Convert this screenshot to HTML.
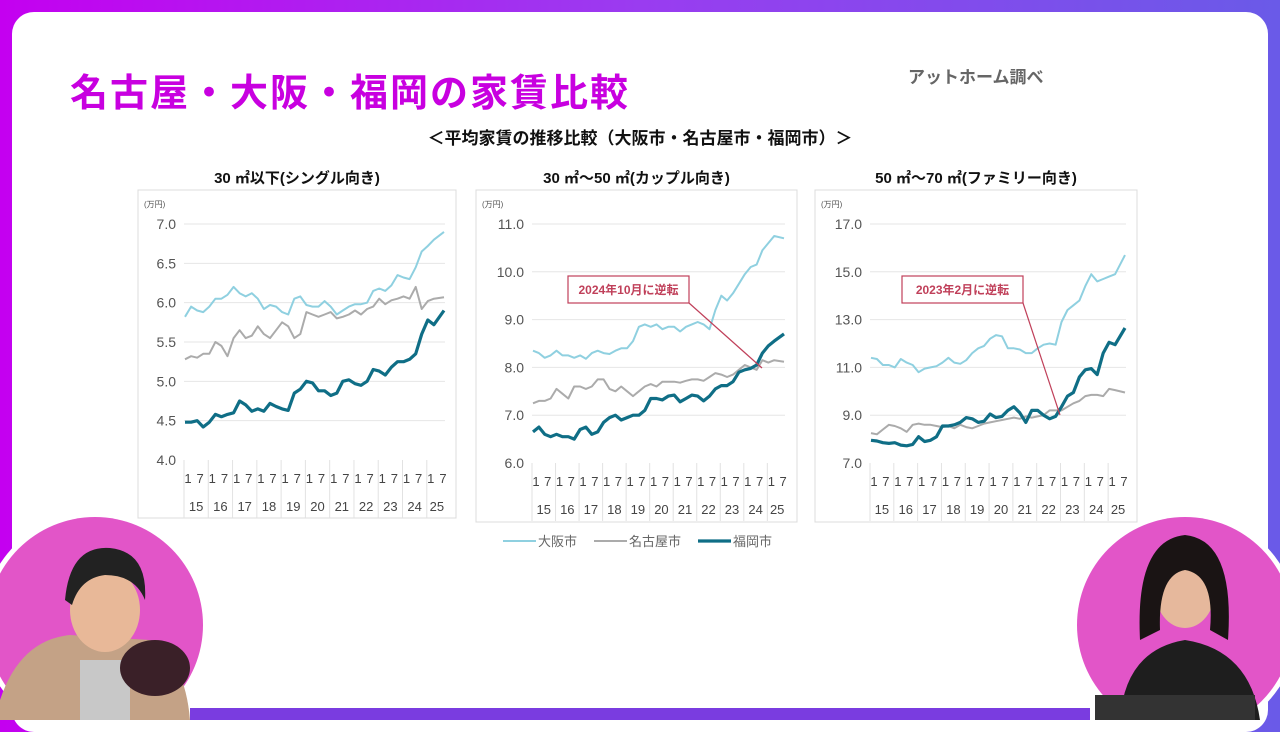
<!DOCTYPE html>
<html><head><meta charset="utf-8">
<style>
html,body{margin:0;padding:0}
body{width:1280px;height:720px;overflow:hidden;position:relative;font-family:"Liberation Sans","Noto Sans CJK JP",sans-serif;background:linear-gradient(90deg,#c400f0 0%,#9a3cf0 50%,#6a5ae8 100%)}
#panel{position:absolute;left:12px;top:12px;width:1256px;height:720px;background:#fff;border-radius:22px}
.t{position:absolute;white-space:nowrap}
</style></head>
<body>
<div id="panel"></div>
<div class="t" style="left:70px;top:62px;font-size:38px;font-weight:bold;color:#c800e0;letter-spacing:2px">名古屋・大阪・福岡の家賃比較</div>
<div class="t" style="left:908px;top:63px;font-size:17px;font-weight:bold;color:#666">アットホーム調べ</div>
<div class="t" style="left:0;width:1280px;text-align:center;top:124px;font-size:17px;font-weight:bold;color:#111">＜平均家賃の推移比較（大阪市・名古屋市・福岡市）＞</div>
<svg id="charts" width="1280" height="720" style="position:absolute;left:0;top:0"></svg>
<svg width="1280" height="720" style="position:absolute;left:0;top:0">
<rect x="190" y="708" width="900" height="12" fill="#7a3ce0"/>
<circle cx="95" cy="625" r="113" fill="#fff"/>
<circle cx="95" cy="625" r="108" fill="#e255c8"/>
<path d="M0 700 Q20 640 70 635 L150 640 Q185 660 190 720 L0 720Z" fill="#c4a286"/>
<rect x="80" y="660" width="50" height="60" fill="#c8c8c8"/>
<ellipse cx="105" cy="610" rx="35" ry="42" fill="#e8b898"/>
<path d="M65 600 Q70 545 110 548 Q148 552 145 600 Q135 575 105 575 Q80 578 72 605Z" fill="#222"/>
<ellipse cx="155" cy="668" rx="35" ry="28" fill="#3a2028"/>
<circle cx="1185" cy="625" r="113" fill="#fff"/>
<circle cx="1185" cy="625" r="108" fill="#e255c8"/>
<path d="M1120 720 Q1125 650 1185 640 Q1250 650 1260 720Z" fill="#1e1e1e"/>
<ellipse cx="1185" cy="590" rx="30" ry="38" fill="#e6b89c"/>
<path d="M1140 640 Q1135 540 1185 535 Q1235 540 1228 640 L1210 630 Q1215 575 1185 570 Q1158 575 1160 630Z" fill="#1a1414"/>
<rect x="1095" y="695" width="160" height="25" fill="#333"/>
</svg>
<script>
// Months index 0 = Jan 2015, quarterly samples (Jan, Apr, Jul, Oct)
const months = [0,3,6,9,12,15,18,21,24,27,30,33,36,39,42,45,48,51,54,57,60,63,66,69,72,75,78,81,84,87,90,93,96,99,102,105,108,111,114,117,120,123,128];
const years = ["15","16","17","18","19","20","21","22","23","24","25"];
const c1Osaka = [5.82,5.95,5.90,5.88,5.95,6.05,6.05,6.10,6.20,6.12,6.08,6.12,6.05,5.92,5.97,5.95,5.88,5.85,6.05,6.08,5.97,5.95,5.95,6.02,5.95,5.85,5.90,5.95,5.98,5.98,6.00,6.15,6.18,6.15,6.22,6.35,6.32,6.30,6.45,6.65,6.72,6.80,6.90];
const c1Nagoya = [5.28,5.32,5.30,5.35,5.35,5.50,5.45,5.32,5.55,5.65,5.55,5.58,5.70,5.60,5.55,5.65,5.75,5.70,5.55,5.60,5.88,5.85,5.82,5.85,5.88,5.80,5.82,5.85,5.90,5.85,5.92,5.95,6.05,5.98,6.03,6.05,6.08,6.05,6.20,5.92,6.02,6.05,6.07];
const c1Fukuoka = [4.48,4.48,4.50,4.42,4.48,4.58,4.55,4.58,4.60,4.75,4.70,4.62,4.65,4.62,4.72,4.68,4.65,4.63,4.85,4.90,5.00,4.98,4.88,4.88,4.82,4.85,5.00,5.02,4.97,4.95,5.00,5.15,5.13,5.08,5.18,5.25,5.25,5.28,5.35,5.60,5.78,5.72,5.90];
const c1Ticks = [4.0,4.5,5.0,5.5,6.0,6.5,7.0];
const c2Osaka = [8.35,8.30,8.20,8.25,8.35,8.25,8.25,8.20,8.25,8.18,8.30,8.35,8.30,8.28,8.35,8.40,8.40,8.55,8.85,8.90,8.85,8.90,8.80,8.85,8.85,8.75,8.85,8.90,8.95,8.90,8.80,9.20,9.50,9.40,9.55,9.75,9.95,10.10,10.15,10.45,10.60,10.75,10.70];
const c2Nagoya = [7.25,7.30,7.30,7.35,7.55,7.45,7.35,7.60,7.60,7.55,7.60,7.75,7.75,7.55,7.50,7.60,7.50,7.40,7.50,7.60,7.65,7.60,7.70,7.70,7.70,7.68,7.72,7.75,7.75,7.72,7.80,7.88,7.85,7.80,7.85,7.95,8.05,8.00,7.95,8.15,8.10,8.15,8.12];
const c2Fukuoka = [6.65,6.75,6.60,6.55,6.60,6.55,6.55,6.50,6.70,6.75,6.60,6.65,6.85,6.95,7.00,6.90,6.95,7.00,7.00,7.10,7.35,7.35,7.32,7.40,7.42,7.28,7.35,7.42,7.40,7.30,7.40,7.55,7.62,7.62,7.70,7.90,7.95,7.98,8.05,8.30,8.45,8.55,8.70];
const c2Ticks = [6.0,7.0,8.0,9.0,10.0,11.0];
const c3Osaka = [11.4,11.35,11.1,11.1,11.0,11.35,11.2,11.1,10.8,10.95,11.0,11.05,11.2,11.4,11.2,11.15,11.3,11.6,11.8,11.9,12.2,12.35,12.3,11.8,11.8,11.75,11.6,11.6,11.8,11.95,12.0,11.95,12.9,13.4,13.6,13.8,14.4,14.9,14.6,14.7,14.8,14.9,15.7];
const c3Nagoya = [8.25,8.2,8.4,8.6,8.55,8.45,8.3,8.6,8.65,8.6,8.6,8.55,8.5,8.55,8.45,8.6,8.5,8.45,8.55,8.65,8.7,8.75,8.8,8.85,8.9,8.85,8.95,8.9,8.95,9.0,9.2,9.2,9.2,9.35,9.5,9.6,9.8,9.85,9.85,9.8,10.1,10.05,9.95];
const c3Fukuoka = [7.95,7.92,7.85,7.82,7.85,7.75,7.72,7.78,8.1,7.9,7.95,8.1,8.55,8.55,8.6,8.7,8.9,8.85,8.7,8.75,9.05,8.9,8.95,9.2,9.35,9.1,8.7,9.2,9.2,9.0,8.85,8.95,9.35,9.8,9.95,10.6,10.9,10.95,10.7,11.6,12.05,11.95,12.65];
const c3Ticks = [7.0,9.0,11.0,13.0,15.0,17.0];

const NS='http://www.w3.org/2000/svg';
const svg=document.getElementById('charts');
function mk(tag,attrs,parent){const e=document.createElementNS(NS,tag);for(const k in attrs)e.setAttribute(k,attrs[k]);(parent||svg).appendChild(e);return e;}

const cfgs=[
 {title:'30 ㎡以下(シングル向き)',box:[138,190,318,328],x0:184,x1:445,yTop:224,yBot:460,ticks:c1Ticks,fmt:1,series:[c1Osaka,c1Nagoya,c1Fukuoka],name:'chart-single'},
 {title:'30 ㎡～50 ㎡(カップル向き)',box:[476,190,321,332],x0:532,x1:785,yTop:224,yBot:463,ticks:c2Ticks,fmt:1,series:[c2Osaka,c2Nagoya,c2Fukuoka],name:'chart-couple',note:{text:'2024年10月に逆転',bx:568,by:276,bw:121,bh:27,lx1:689,ly1:303,lx2:762,ly2:368}},
 {title:'50 ㎡～70 ㎡(ファミリー向き)',box:[815,190,322,332],x0:870,x1:1126,yTop:224,yBot:463,ticks:c3Ticks,fmt:1,series:[c3Osaka,c3Nagoya,c3Fukuoka],name:'chart-family',note:{text:'2023年2月に逆転',bx:902,by:276,bw:121,bh:27,lx1:1023,ly1:303,lx2:1060,ly2:415}}
];
const colors=['#8fd0e0','#ababab','#0f6e86'];
const widths=[2,2,3.2];
const sNames=['osaka','nagoya','fukuoka'];

cfgs.forEach(c=>{
 const g=mk('g',{});
 
 
 const [bx,by,bw,bh]=c.box;
 const t=mk('text',{x:bx+bw/2,y:183,'text-anchor':'middle','font-size':15,'font-weight':'bold',fill:'#111'},g);
 t.textContent=c.title;
 
 
 const fr=mk('rect',{x:bx,y:by,width:bw,height:bh,fill:'#fff',stroke:'#dcdcdc','stroke-width':1},g);
 
 
 const minV=c.ticks[0],maxV=c.ticks[c.ticks.length-1];
 const ys=v=>c.yBot-(v-minV)/(maxV-minV)*(c.yBot-c.yTop);
 const xs=m=>c.x0+(m+0.5)/129*(c.x1-c.x0);
 const u=mk('text',{x:bx+6,y:c.yTop-17,'font-size':8,fill:'#555'},g);u.textContent='(万円)';
 
 
 c.ticks.forEach(v=>{
  if(v!==minV){const l=mk('line',{x1:c.x0,x2:c.x1,y1:ys(v),y2:ys(v),stroke:'#e6e6e6','stroke-width':1},g);
   
   }
  const tt=mk('text',{x:c.x0-8,y:ys(v)+5,'text-anchor':'end','font-size':14,fill:'#555'},g);
  tt.textContent=v.toFixed(c.fmt);
  
  
 });
 const yw=(c.x1-c.x0)*12/129;
 years.forEach((yr,i)=>{
  const xl=c.x0+i*yw;
  const sep=mk('line',{x1:xl,x2:xl,y1:c.yBot,y2:c.yBot+58,stroke:'#e2e2e2','stroke-width':1},g);
  
  
  [['1',0],['7',6]].forEach(([lab,m])=>{
   if(i*12+m>128)return;
   const tx=mk('text',{x:xs(i*12+m)+3,y:c.yBot+23,'text-anchor':'middle','font-size':13,fill:'#444'},g);
   tx.textContent=lab;
   
   
  });
  const mid=Math.min(xl+yw/2,(xl+c.x1)/2+1);
  const ty=mk('text',{x:mid,y:c.yBot+51,'text-anchor':'middle','font-size':13,fill:'#444'},g);
  ty.textContent=yr;
  
  
 });
 c.series.forEach((s,k)=>{
  const d=s.map((v,i)=>(i?'L':'M')+xs(months[i]).toFixed(1)+' '+ys(v).toFixed(1)).join(' ');
  const p=mk('path',{d:d,fill:'none',stroke:colors[k],'stroke-width':widths[k],'stroke-linejoin':'round'},g);
  
  
 });
 if(c.note){const n=c.note;
  const ln=mk('line',{x1:n.lx1,y1:n.ly1,x2:n.lx2,y2:n.ly2,stroke:'#c0405a','stroke-width':1.2},g);
  
  
  const r=mk('rect',{x:n.bx,y:n.by,width:n.bw,height:n.bh,fill:'#fff',stroke:'#c0405a','stroke-width':1.2},g);
  
  
  const nt=mk('text',{x:n.bx+n.bw/2,y:n.by+18,'text-anchor':'middle','font-size':12,'font-weight':'bold',fill:'#c0405a'},g);
  nt.textContent=n.text;
  
  
 }
});
// legend
const legLabels=['大阪市','名古屋市','福岡市'];
const legX=[503,594,698];
legLabels.forEach((lab,k)=>{
 const g=mk('g',{});
 
 
 mk('line',{x1:legX[k],x2:legX[k]+33,y1:541,y2:541,stroke:colors[k],'stroke-width':widths[k]},g);
 const t=mk('text',{x:legX[k]+35,y:546,'font-size':13,fill:'#666'},g);
 t.textContent=lab;
});
</script>
</body></html>
